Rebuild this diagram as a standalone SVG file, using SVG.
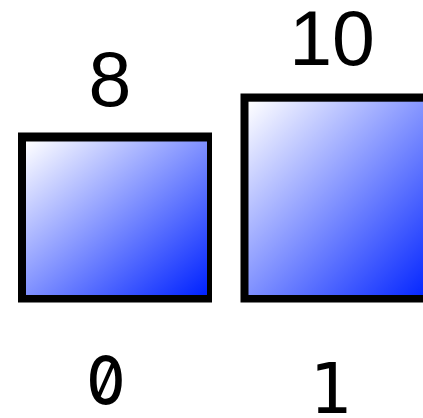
<svg xmlns="http://www.w3.org/2000/svg" width="423" height="418" viewBox="0 0 423 418">
  <defs>
    <linearGradient id="blueGrad" x1="0" y1="0" x2="1" y2="1">
      <stop offset="0" stop-color="#ffffff"/>
      <stop offset="1" stop-color="#0022ff"/>
    </linearGradient>
    <style>
      .frame { fill: #000000; }
      .fill { fill: url(#blueGrad); }
      .val { font-family: "Liberation Sans", Arial, sans-serif; font-size: 77px; fill: #000000; text-anchor: middle; }
      .idx { font-family: "DejaVu Sans Mono", monospace; fill: #000000; text-anchor: middle; }
      .zero { font-family: Inter, "DejaVu Sans Mono", monospace; font-feature-settings: "zero" 1; font-variant-numeric: slashed-zero; font-weight: 500; }
    </style>
  </defs>
  <rect width="423" height="418" fill="#ffffff"/>
  <g id="node0">
    <rect class="frame" x="18" y="132.5" width="194" height="170"/>
    <rect class="fill" x="26" y="141.5" width="181" height="153.5"/>
    <text class="val" x="110" y="106">8</text>
    <text class="idx zero" transform="translate(106 404) scale(0.9 1)" x="0" y="0" font-size="66">0</text>
  </g>
  <g id="node1">
    <rect class="frame" x="240.5" y="93.5" width="200" height="209"/>
    <rect class="fill" x="248.5" y="101.7" width="185" height="193.3"/>
    <text class="val" x="332" y="65">10</text>
    <text class="idx" x="330" y="413" font-size="70">1</text>
  </g>
  <g id="connectors"/>
</svg>
